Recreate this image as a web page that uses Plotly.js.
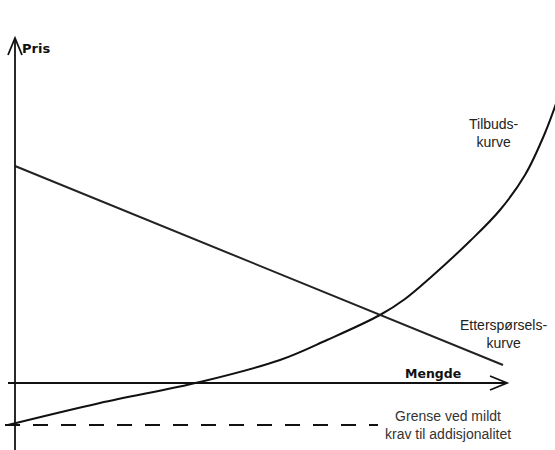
<!DOCTYPE html>
<html>
<head>
<meta charset="utf-8">
<script src="https://cdn.plot.ly/plotly-3.0.1.min.js"></script>
<style>html,body{margin:0;padding:0;background:#fff;}#chart{width:555px;height:450px;}</style>
</head>
<body>
<div id="chart"></div>
<script>
// Supply curve (Tilbudskurve): quantity vs price
const supplyQ = [-0.7, 8.5, 18.5, 26.5, 31.2, 36.5, 39.0, 41.5, 45.5, 48.5, 51.0, 53.0, 54.3];
const supplyP = [-4.2, -2.0, 0.1, 2.3, 4.3, 6.8, 8.4, 10.5, 14.2, 17.3, 20.8, 25.0, 28.5];
// Demand curve (Etterspørselskurve)
const demandQ = [0, 48.8];
const demandP = [21.7, 1.8];
// Limit with mild additionality requirement (dashed)
const limitQ = [-1.0, 36.3];
const limitP = [-4.2, -4.2];
// Axis extents
const xAxisQ = [-0.7, 49.2];
const yAxisP = [-7, 34.5];
// Labels
const labelPris = "Pris";
const labelMengde = "Mengde";
const labelSupply = "Tilbuds-<br>kurve";
const labelDemand = "Etterspørsels-<br>kurve";
const labelLimit = "Grense ved mildt<br>krav til addisjonalitet";

const black = "#111";
const traces = [
  {x: supplyQ, y: supplyP, mode: "lines", line: {color: black, width: 2, shape: "spline", smoothing: 1}, hoverinfo: "skip"},
  {x: demandQ, y: demandP, mode: "lines", line: {color: "#222", width: 2}, hoverinfo: "skip"},
  {x: limitQ, y: limitP, mode: "lines", line: {color: black, width: 2, dash: "15px,13px"}, hoverinfo: "skip"}
];

const ah = 1.7, aw = 0.7; // arrowhead length / half-width (data units)
const xt = xAxisQ[1], yt = yAxisP[1];
const lineSty = {color: black, width: 1.8};
const shapes = [
  {type: "line", x0: xAxisQ[0], x1: xAxisQ[1], y0: 0, y1: 0, line: lineSty},
  {type: "line", x0: 0, x1: 0, y0: yAxisP[0], y1: yAxisP[1], line: lineSty},
  {type: "path", path: `M ${xt-ah} ${aw} L ${xt} 0 L ${xt-ah} ${-aw}`, line: lineSty},
  {type: "path", path: `M ${-aw} ${yt-ah} L 0 ${yt} L ${aw} ${yt-ah}`, line: lineSty}
];

const ann = (x, y, text, opts) => Object.assign({x, y, xref: "x", yref: "y", text, showarrow: false, xanchor: "center", yanchor: "middle"}, opts);
const annotations = [
  ann(0.5, 33.5, "<b>" + labelPris + "</b>", {xanchor: "left", font: {family: "DejaVu Sans", size: 13, color: black}}),
  ann(41.8, 1.0, "<b>" + labelMengde + "</b>", {font: {family: "DejaVu Sans", size: 12.5, color: black}}),
  ann(47.9, 25.0, labelSupply, {font: {family: "Liberation Sans", size: 14, color: "#222"}}),
  ann(48.8, 4.9, labelDemand, {font: {family: "Liberation Sans", size: 14, color: "#222"}}),
  ann(43.3, -4.2, labelLimit, {font: {family: "Liberation Sans", size: 14, color: "#333"}})
];

const layout = {
  width: 555, height: 450,
  margin: {l: 0, r: 0, t: 0, b: 0},
  paper_bgcolor: "#fff", plot_bgcolor: "#fff",
  showlegend: false,
  xaxis: {range: [-1.5, 54], visible: false, fixedrange: true},
  yaxis: {range: [-6.7, 38.3], visible: false, fixedrange: true},
  shapes, annotations
};
Plotly.newPlot("chart", traces, layout, {displayModeBar: false, staticPlot: true});
</script>
</body>
</html>
